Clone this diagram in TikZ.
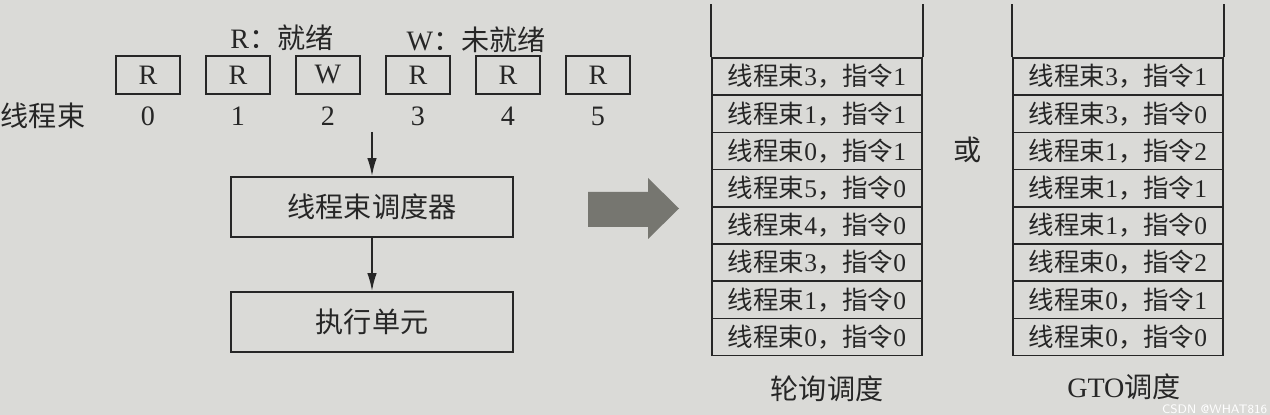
\documentclass[tikz,border=0pt]{standalone}
\usepackage{fontspec}
\setmainfont{Liberation Serif}
\newfontfamily\cjk{Noto Sans CJK SC}
\usetikzlibrary{arrows.meta}
\definecolor{paper}{RGB}{218,218,215}
\definecolor{ink}{RGB}{38,38,38}
\definecolor{arrowgray}{RGB}{118,118,112}
\newcommand{\warpins}[2]{{\cjk 线程束}#1{\cjk ，指令}#2}

\begin{document}
\begin{tikzpicture}[x=0.2cm, y=-0.2cm, line width=1pt, ink,
    flag/.style={draw, minimum width=1.28cm, minimum height=0.76cm, inner sep=0pt, font=\fontsize{16}{18}\selectfont},
    unit/.style={draw, minimum width=5.64cm, minimum height=1.2cm, inner sep=0pt, font=\cjk\fontsize{16}{18}\selectfont},
    slot/.style={draw, minimum width=4.2cm, minimum height=0.744cm, inner sep=0pt, font=\fontsize{14.5}{16}\selectfont},
    lbl/.style={font=\fontsize{16}{18}\selectfont},
    arr/.style={-{Latex[length=3.6mm, width=1.9mm]}}]
    % Background
    \fill[paper] (0,0) rectangle (127,41.5);
    % Legend
    \node[lbl] (legr) at (28.2,3.8) {R{\cjk ：就绪}};
    \node[lbl] (legw) at (47.6,4.0) {W{\cjk ：未就绪}};
    % Warp states
    \foreach \s [count=\i from 0] in {R,R,W,R,R,R} {
      \node[flag] (w\i) at ({14.8+9*\i},7.5) {\s};
      \node[lbl] (n\i) at ({14.8+9*\i},11.6) {\i};
    }
    \node[lbl, anchor=west, inner sep=0pt] (warps) at (0,11.6) {\cjk 线程束};
    % Scheduler and execution unit
    \coordinate (in) at (37.2,13.2);
    \node[unit] (sched) at (37.2,20.7) {线程束调度器};
    \node[unit] (exec) at (37.2,32.2) {执行单元};
    \draw[arr] (in) -- (sched);
    \draw[arr] (sched) -- (exec);
    % Big arrow
    \fill[arrowgray] (58.8,19.2) -- (64.8,19.2) -- (64.8,17.8) -- (67.9,20.85)
      -- (64.8,23.9) -- (64.8,22.7) -- (58.8,22.7) -- cycle;
    % Round robin stack
    \foreach \w/\k [count=\i] in {3/1,1/1,0/1,5/0,4/0,3/0,1/0,0/0}
      \node[slot] (rr\i) at (81.7,{3.94+3.72*\i}) {\warpins{\w}{\k}};
    \draw (rr1.north west) -- ++(0,-5.3);
    \draw (rr1.north east) -- ++(0,-5.3);
    \node[lbl] (rrname) at (82.7,38.9) {\cjk 轮询调度};
    % Or
    \node[lbl] (alt) at (96.8,15.0) {\cjk 或};
    % GTO stack
    \foreach \w/\k [count=\i] in {3/1,3/0,1/2,1/1,1/0,0/2,0/1,0/0}
      \node[slot] (gt\i) at (111.8,{3.94+3.72*\i}) {\warpins{\w}{\k}};
    \draw (gt1.north west) -- ++(0,-5.3);
    \draw (gt1.north east) -- ++(0,-5.3);
    \node[lbl, inner sep=0pt] (gtname) at (112.4,38.7) {GTO{\cjk 调度}};
    % Watermark
    \node[white, font=\sffamily\fontsize{7}{8}\selectfont, anchor=east, inner sep=0pt] (mark) at (126.8,40.9) {CSDN @WHAT816};
\end{tikzpicture}
\end{document}
